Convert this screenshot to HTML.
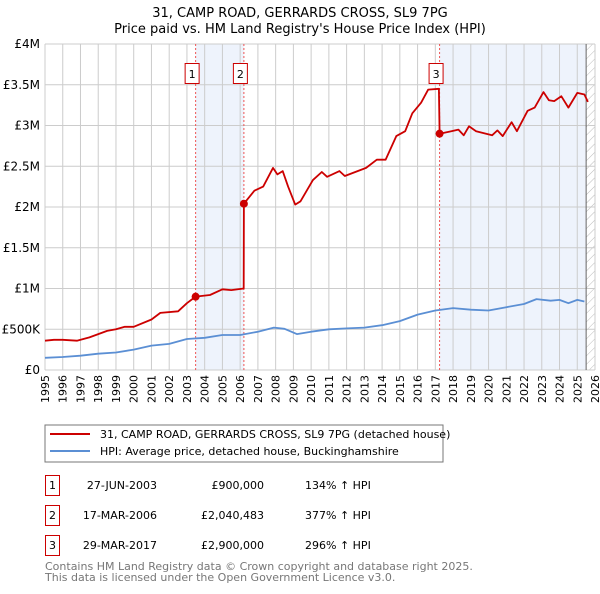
<!DOCTYPE html>
<html><head><meta charset="utf-8"><style>
body{margin:0;background:#fff;width:600px;height:590px;overflow:hidden;font-family:"DejaVu Sans","Liberation Sans",sans-serif}
svg text{font-family:"DejaVu Sans","Liberation Sans",sans-serif}
</style></head><body>
<svg id="c" width="600" height="590" viewBox="0 0 600 590">
<defs><pattern id="hatch" width="6" height="6" patternUnits="userSpaceOnUse" patternTransform="rotate(45)"><line x1="0" y1="0" x2="0" y2="6" stroke="#bbb" stroke-width="1"/></pattern></defs>
<text x="300" y="17" text-anchor="middle" font-size="13" fill="#000">31, CAMP ROAD, GERRARDS CROSS, SL9 7PG</text>
<text x="300" y="33" text-anchor="middle" font-size="13" fill="#000">Price paid vs. HM Land Registry's House Price Index (HPI)</text>
<g id="plot"></g>
<rect x="45" y="425" width="398" height="37" fill="#fff" stroke="#777"/>
<line x1="50" y1="434" x2="90" y2="434" stroke="#cc0000" stroke-width="2"/>
<text x="100" y="438" font-size="11">31, CAMP ROAD, GERRARDS CROSS, SL9 7PG (detached house)</text>
<line x1="50" y1="451" x2="90" y2="451" stroke="#5b8fd4" stroke-width="2"/>
<text x="100" y="455" font-size="11">HPI: Average price, detached house, Buckinghamshire</text>
<g font-size="11">
<rect x="45.5" y="475.5" width="14" height="20" fill="none" stroke="#cc0000"/><text x="52.5" y="489" text-anchor="middle">1</text>
<text x="157" y="489" text-anchor="end">27-JUN-2003</text><text x="264" y="489" text-anchor="end">£900,000</text><text x="305" y="489">134% ↑ HPI</text>
<rect x="45.5" y="505.5" width="14" height="20" fill="none" stroke="#cc0000"/><text x="52.5" y="519" text-anchor="middle">2</text>
<text x="157" y="519" text-anchor="end">17-MAR-2006</text><text x="264" y="519" text-anchor="end">£2,040,483</text><text x="305" y="519">377% ↑ HPI</text>
<rect x="45.5" y="535.5" width="14" height="20" fill="none" stroke="#cc0000"/><text x="52.5" y="549" text-anchor="middle">3</text>
<text x="157" y="549" text-anchor="end">29-MAR-2017</text><text x="264" y="549" text-anchor="end">£2,900,000</text><text x="305" y="549">296% ↑ HPI</text>
</g>
<text x="45" y="570" font-size="11" fill="#777">Contains HM Land Registry data © Crown copyright and database right 2025.</text>
<text x="45" y="581" font-size="11" fill="#777">This data is licensed under the Open Government Licence v3.0.</text>
</svg>
<script>
const yTicks=[0,500000,1000000,1500000,2000000,2500000,3000000,3500000,4000000];
const yTickLabels=["£0","£500K","£1M","£1.5M","£2M","£2.5M","£3M","£3.5M","£4M"];
const xYears=[1995,1996,1997,1998,1999,2000,2001,2002,2003,2004,2005,2006,2007,2008,2009,2010,2011,2012,2013,2014,2015,2016,2017,2018,2019,2020,2021,2022,2023,2024,2025,2026];
const saleDates=[2003.49,2006.21,2017.24];
const salePrices=[900000,2040483,2900000];
const saleLabels=["1","2","3"];
const redX=[1995,1995.5,1996,1996.8,1997.5,1998.5,1999,1999.5,2000,2001,2001.5,2002.5,2003,2003.49,2004.3,2005,2005.5,2006.2,2006.21,2006.8,2007.3,2007.85,2008.1,2008.4,2008.7,2009.1,2009.4,2010.1,2010.6,2010.9,2011.6,2011.9,2013.1,2013.7,2014.2,2014.8,2015.3,2015.7,2016.2,2016.6,2017.2,2017.24,2017.9,2018.3,2018.6,2018.9,2019.3,2020.2,2020.5,2020.8,2021.3,2021.6,2022.2,2022.6,2023.1,2023.4,2023.7,2024.1,2024.5,2025.0,2025.4,2025.6];
const redY=[360000,370000,370000,360000,400000,480000,500000,530000,530000,620000,700000,720000,820000,900000,920000,990000,980000,1000000,2040000,2200000,2250000,2480000,2400000,2440000,2250000,2030000,2070000,2330000,2430000,2370000,2440000,2380000,2480000,2580000,2580000,2870000,2930000,3150000,3280000,3440000,3450000,2900000,2930000,2950000,2880000,2990000,2930000,2880000,2940000,2870000,3040000,2930000,3180000,3220000,3410000,3310000,3300000,3360000,3220000,3400000,3380000,3290000];
const blueX=[1995,1996,1997,1998,1999,2000,2001,2002,2003,2004,2005,2006,2007,2007.9,2008.5,2009.2,2010,2011,2012,2013,2014,2015,2016,2017,2018,2019,2020,2021,2022,2022.7,2023.5,2024,2024.5,2025,2025.4];
const blueY=[150000,160000,175000,200000,215000,250000,300000,320000,380000,395000,430000,430000,470000,520000,505000,440000,470000,500000,510000,520000,550000,600000,680000,730000,760000,740000,730000,770000,810000,870000,850000,860000,820000,860000,840000];
const X0=45,X1=595,Y0=370,Y1=44,dataEnd=2025.5;
const xs=v=>X0+(v-1995)/(2026-1995)*(X1-X0);
const ys=v=>Y0-v/4000000*(Y0-Y1);
const NS="http://www.w3.org/2000/svg";
const g=document.getElementById('plot');
function mk(t,a){const e=document.createElementNS(NS,t);for(const k in a)e.setAttribute(k,a[k]);g.appendChild(e);return e;}
let r=mk('rect',{x:xs(saleDates[0]),y:Y1,width:xs(saleDates[1])-xs(saleDates[0]),height:Y0-Y1,fill:'#eef3fc'});


r=mk('rect',{x:xs(saleDates[2]),y:Y1,width:xs(dataEnd)-xs(saleDates[2]),height:Y0-Y1,fill:'#eef3fc'});


r=mk('rect',{x:xs(dataEnd),y:Y1,width:X1-xs(dataEnd),height:Y0-Y1,fill:'url(#hatch)'});


xYears.forEach(y=>{const l=mk('line',{x1:xs(y),x2:xs(y),y1:Y1,y2:Y0,stroke:'#ccc'});


const t=mk('text',{x:0,y:0,'font-size':'11','text-anchor':'end',transform:`translate(${xs(y)+4},${Y0+5}) rotate(-90)`});t.textContent=y;

});
yTicks.forEach((v,i)=>{const l=mk('line',{x1:X0,x2:X1,y1:ys(v),y2:ys(v),stroke:'#ccc'});


const t=mk('text',{x:X0-5,y:ys(v)+4,'font-size':'12','text-anchor':'end'});t.textContent=yTickLabels[i];

});
let l=mk('line',{x1:xs(dataEnd),x2:xs(dataEnd),y1:Y1,y2:Y0,stroke:'#666'});


saleDates.forEach((d,i)=>{const v=mk('line',{x1:xs(d),x2:xs(d),y1:Y1,y2:Y0,stroke:'#e55','stroke-dasharray':'2,2'});

});
function path(X,Y,c,n){const p=mk('path',{d:X.map((x,i)=>(i?'L':'M')+xs(x).toFixed(1)+','+ys(Y[i]).toFixed(1)).join(''),fill:'none',stroke:c,'stroke-width':'1.8','stroke-linejoin':'round'});

}
path(blueX,blueY,'#5b8fd4','hpi-line');
path(redX,redY,'#cc0000','property-line');
saleDates.forEach((d,i)=>{const c=mk('circle',{cx:xs(d),cy:ys(salePrices[i]),r:4,fill:'#cc0000'});


const b=mk('rect',{x:xs(d)-10.5,y:63.5,width:14,height:20,fill:'#fff',stroke:'#cc0000'});


const t=mk('text',{x:xs(d)-3.5,y:78,'font-size':'11','text-anchor':'middle'});t.textContent=saleLabels[i];

});
</script>
</body></html>
